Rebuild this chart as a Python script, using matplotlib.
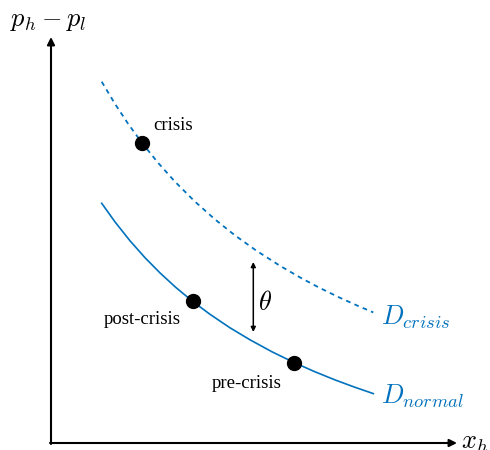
import matplotlib
matplotlib.use('Agg')
import matplotlib.pyplot as plt

plt.rcParams['mathtext.fontset'] = 'cm'
plt.rcParams['font.family'] = ['Liberation Serif', 'DejaVu Serif']

blue = '#0072bd'

# curves (x right, y down, pixel-like units)
normal_x = [101.7, 115, 130, 145, 160, 176, 192.7, 210, 230, 250, 272, 294, 315, 335, 355, 373.3]
normal_y = [203.3, 221.9, 240.8, 257.7, 272.9, 287.6, 301.4, 314.3, 327.8, 339.8, 351.8, 362.5, 371.8, 379.9, 387.3, 393.6]
crisis_x = [101.7, 115, 128, 142.3, 158, 175, 194.3, 215, 235, 256.7, 280, 300, 318.3, 340, 358, 373.3]
crisis_y = [81.7, 103.9, 123.6, 143.3, 162.7, 181.7, 201.0, 219.4, 235.4, 250.9, 265.8, 277.4, 287.2, 297.8, 305.9, 312.4]

# points on the curves
pts_x = [142.3, 192.7, 294]
pts_y = [142.5, 301.2, 363.2]
pts_lbl = ['crisis', 'post-crisis', 'pre-crisis']
lbl_pos = [(153, 125, 'left'), (142, 320, 'center'), (247, 384, 'center')]

fig = plt.figure(figsize=(4.9, 4.5), dpi=100)
ax = fig.add_axes([0, 0, 1, 1])
ax.set_xlim(0, 490)
ax.set_ylim(450, 0)
ax.axis('off')

# axes with arrows
ax.annotate('', xy=(51, 37), xytext=(51, 444),
            arrowprops=dict(arrowstyle='-|>', color='black', lw=1.5, mutation_scale=11, shrinkA=0, shrinkB=0))
ax.annotate('', xy=(457, 443), xytext=(50, 443),
            arrowprops=dict(arrowstyle='-|>', color='black', lw=1.5, mutation_scale=11, shrinkA=0, shrinkB=0))
ax.text(10, 22, r'$p_h - p_l$', fontsize=19, va='center', ha='left')
ax.text(461, 444, r'$x_h$', fontsize=19, va='center', ha='left')

ax.plot(normal_x, normal_y, color=blue, lw=1.2)
ax.plot(crisis_x, crisis_y, color=blue, lw=1.3, ls=(0, (2.6, 2.4)))
ax.text(381, 317, r'$D_{crisis}$', color=blue, fontsize=19, va='center', ha='left')
ax.text(381, 396, r'$D_{normal}$', color=blue, fontsize=19, va='center', ha='left')

ax.plot(pts_x, pts_y, 'o', color='black', ms=10, zorder=5)
for lbl, (tx, ty, ha) in zip(pts_lbl, lbl_pos):
    ax.text(tx, ty, lbl, fontsize=13.5, va='center', ha=ha)

# theta shift
ax.annotate('', xy=(253.3, 262), xytext=(253.3, 332),
            arrowprops=dict(arrowstyle='<|-|>', color='black', lw=1.1, mutation_scale=7, shrinkA=0, shrinkB=0))
ax.text(258, 303, r'$\theta$', fontsize=19, va='center', ha='left')

fig.savefig('out.png', dpi=100)
